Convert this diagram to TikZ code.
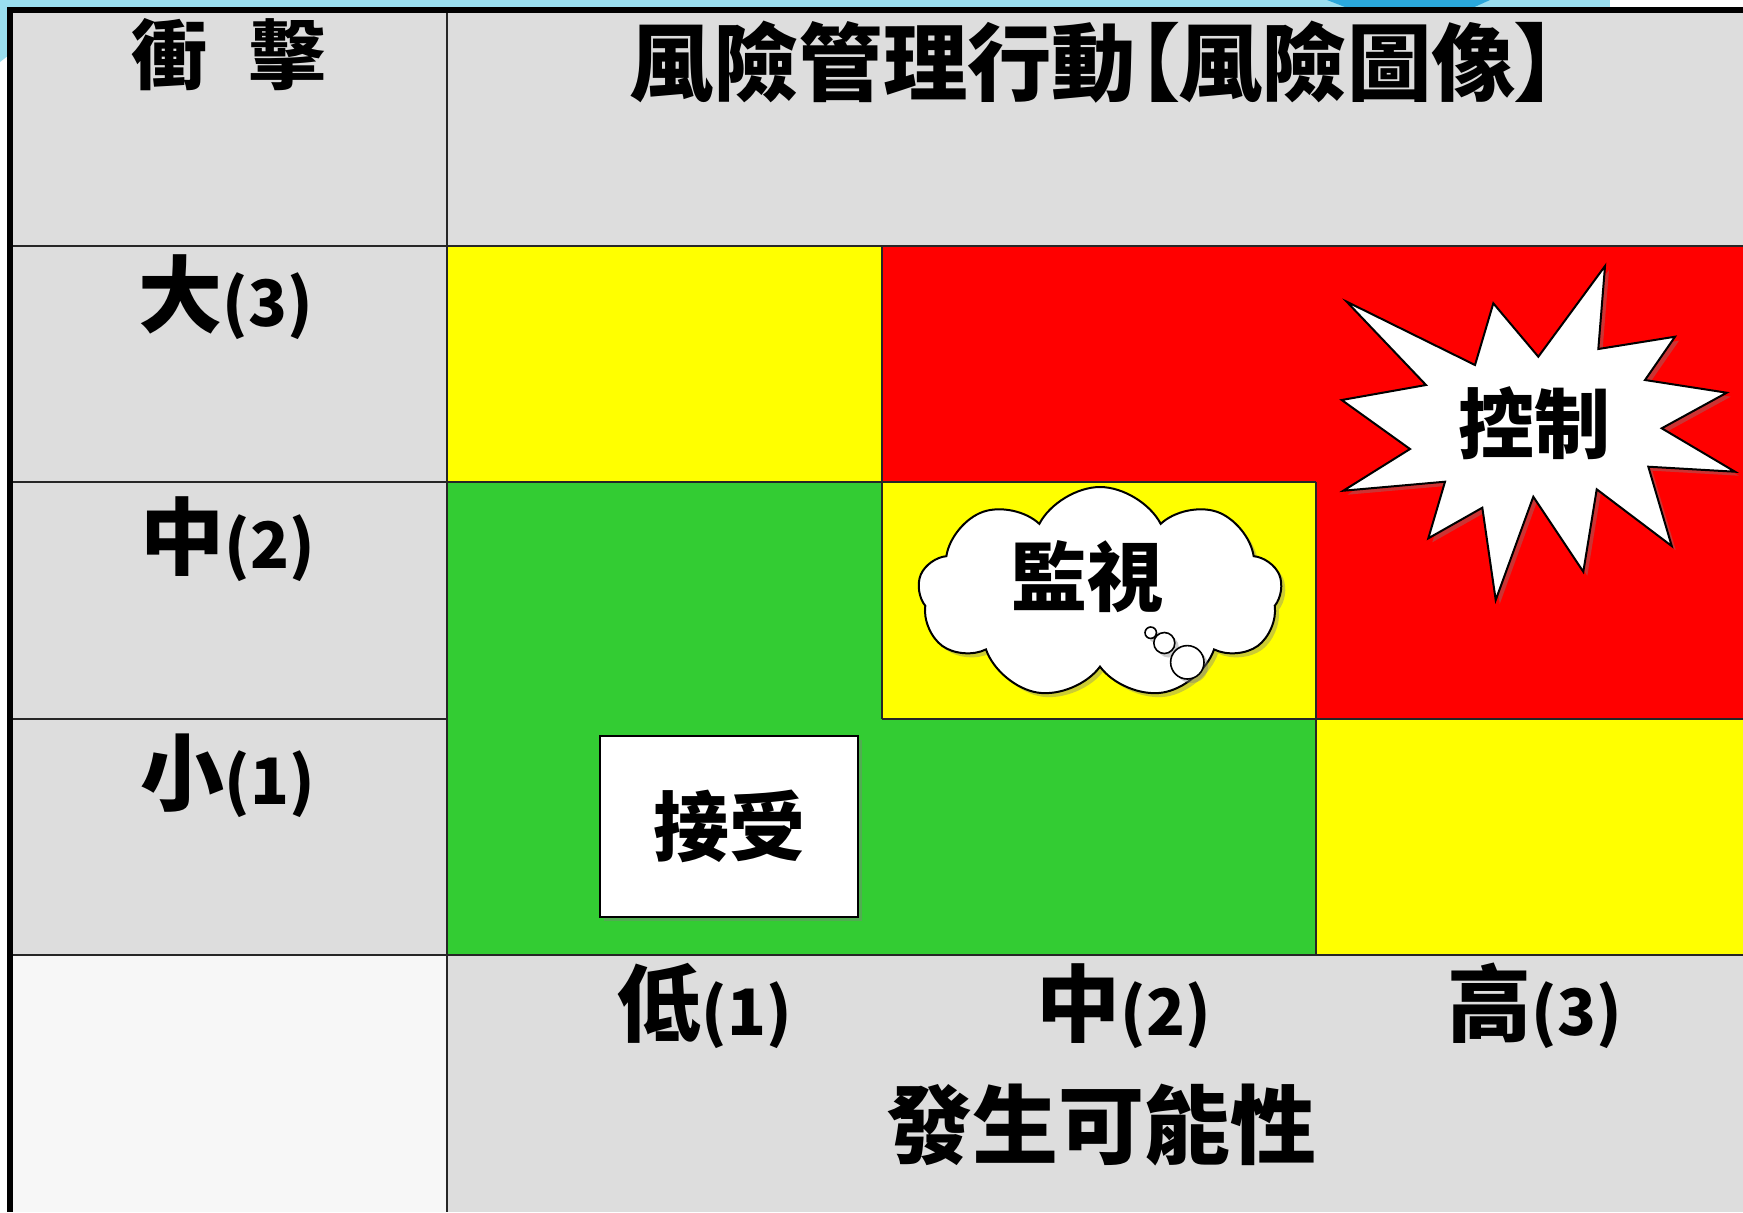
\documentclass[tikz,border=0pt]{standalone}
\usepackage{fontspec}
\newfontfamily\cjk{Noto Sans CJK TC}
\newfontfamily\cjkp{Noto Sans CJK TC}[RawFeature=+palt]
\usetikzlibrary{shapes.symbols,shadows}
\definecolor{hdrgray}{HTML}{DDDDDD}
\definecolor{cellyellow}{HTML}{FFFF00}
\definecolor{cellred}{HTML}{FF0000}
\definecolor{cellgreen}{HTML}{33CC33}
\definecolor{paper}{HTML}{F7F7F7}
\definecolor{swirl}{HTML}{9ADFF0}
\definecolor{swirldark}{HTML}{2AA8DC}
\newcommand{\lblnum}[1]{{\fontsize{32}{36}\selectfont(#1)}}
\begin{document}
\begin{tikzpicture}[x=0.5pt,y=-0.5pt,
  gridline/.style={draw=black!85,line width=1pt},
  border/.style={draw=black,line width=2.6pt},
  bigtxt/.style={inner sep=0pt,font={\cjk\bfseries\fontsize{42}{48}\selectfont}},
  midtxt/.style={inner sep=0pt,font={\cjk\bfseries\fontsize{38}{44}\selectfont}},
  softshadow/.style={drop shadow={opacity=0.4,shadow xshift=2pt,shadow yshift=-2pt}},
  calloutbox/.style={draw=black,line width=1pt,fill=white,softshadow}]
\useasboundingbox (0,0) rectangle (1743,1212);
\fill[white] (0,0) rectangle (1743,1212);
% background decoration
\fill[swirl] (0,0) -- (1610,0) -- (1610,9) -- (0,9) -- cycle;
\fill[swirldark] (1327,0) -- (1490,0) -- (1470,9) -- (1350,9) -- cycle;
\fill[swirl] (0,0) -- (9,0) -- (9,55) -- (0,62) -- cycle;
% table fills
\fill[hdrgray] (10,10) rectangle (1743,1212);
\fill[paper] (10,955) rectangle (447,1212);
\fill[cellyellow] (447,246) rectangle (882,482);
\fill[cellred] (882,246) rectangle (1743,482);
\fill[cellgreen] (447,482) rectangle (882,955);
\fill[cellyellow] (882,482) rectangle (1316,719);
\fill[cellred] (1316,482) rectangle (1743,719);
\fill[cellgreen] (882,719) rectangle (1316,955);
\fill[cellyellow] (1316,719) rectangle (1743,955);
% grid lines
\draw[gridline] (10,246) -- (1743,246);
\draw[gridline] (10,482) -- (1316,482);
\draw[gridline] (10,719) -- (447,719);
\draw[gridline] (882,719) -- (1743,719);
\draw[gridline] (10,955) -- (1743,955);
\draw[gridline] (447,10) -- (447,1212);
\draw[gridline] (882,246) -- (882,719);
\draw[gridline] (1316,482) -- (1316,955);
\draw[border] (1743,10) -- (10,10) -- (10,1212);
% header texts
\node[midtxt] (impact) at (228.5,55) {衝\hspace{0.55em}擊};
\node[inner sep=0pt,font={\cjkp\bfseries\fontsize{42.2}{48}\selectfont}] (title) at (1094,62) {風險管理行動【風險圖像】};
% row labels
\node[bigtxt] (rowbig) at (226,297) {大\lblnum{3}};
\node[bigtxt] (rowmid) at (228,539) {中\lblnum{2}};
\node[bigtxt] (rowsmall) at (228,776) {小\lblnum{1}};
% column labels
\node[bigtxt] (collow) at (705,1006) {低\lblnum{1}};
\node[bigtxt] (colmid) at (1124,1006) {中\lblnum{2}};
\node[bigtxt] (colhigh) at (1535,1006) {高\lblnum{3}};
\node[inner sep=0pt,font={\cjk\bfseries\fontsize{43}{50}\selectfont}] (likelihood) at (1101,1125) {發生可能性};
% accept box
\node[calloutbox,minimum width=129pt,minimum height=90.5pt,inner sep=0pt] (acceptbox) at (729,826.5) {};
\node[midtxt] (accept) at (acceptbox.center) {接受};
% cloud
\node[cloud,calloutbox,cloud puffs=9,cloud puff arc=125,cloud ignores aspect,
      minimum width=182pt,minimum height=106pt,inner sep=0pt] (cloudshape) at (1100,593) {};
\node[midtxt] (monitor) at (1087,577) {監視};
\draw[calloutbox,line width=0.8pt] (1150.7,632.7) circle[radius=5.7];
\draw[calloutbox,line width=0.8pt] (1164.3,643) circle[radius=10.5];
\draw[calloutbox,line width=0.8pt] (1187.3,662.3) circle[radius=16.7];
% starburst
\path[calloutbox] (1605,266) -- (1598.3,349) -- (1675,336.7) -- (1645,380) -- (1726.7,392.7)
  -- (1661.7,428.3) -- (1735,471.7) -- (1648.3,466.7) -- (1671.7,546) -- (1596.7,489.3)
  -- (1583.3,571.7) -- (1533.3,496.7) -- (1495.7,600) -- (1482.3,507.7) -- (1428.3,538.3)
  -- (1445,481.7) -- (1343.3,490.7) -- (1410,449) -- (1341.7,400) -- (1426,385)
  -- (1346.7,301.7) -- (1475,365) -- (1493.3,303.3) -- (1538.3,356.7) -- cycle;
\node[midtxt] (control) at (1534,423) {控制};
\end{tikzpicture}
\end{document}
